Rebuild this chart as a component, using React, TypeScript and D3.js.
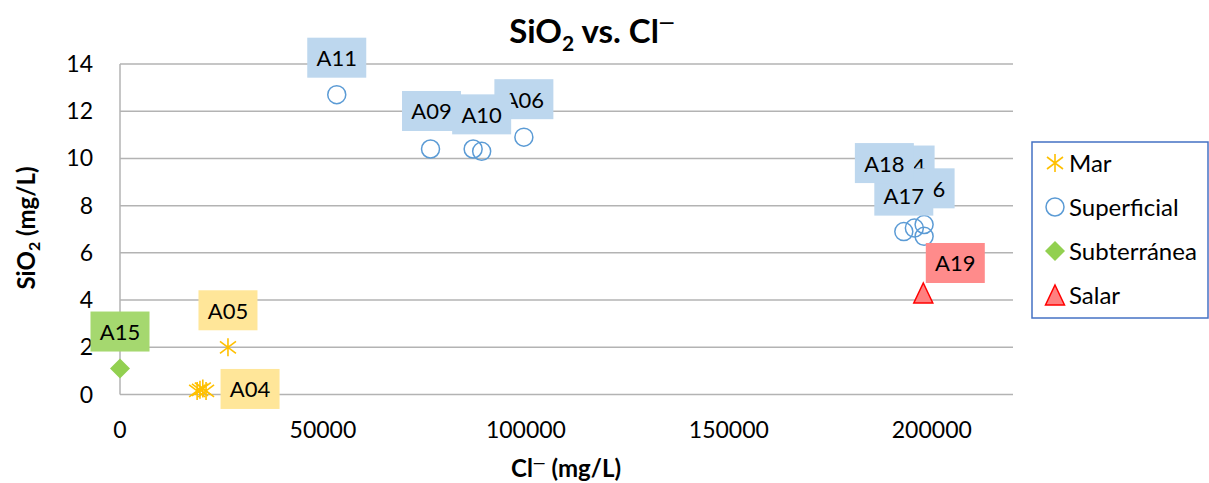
import * as d3 from "d3";

// ---- data ----
const marNames = ["A01", "A02", "A03", "A04", "A05"];
const marCl = [19000, 19700, 20400, 21200, 26600];
const marSiO2 = [0.15, 0.2, 0.25, 0.15, 2.0];

const supNames = ["A11", "A09", "A08", "A10", "A06", "A17", "A16", "A14", "A18"];
const supCl = [53400, 76500, 87000, 89100, 99500, 193100, 198100, 198100, 195700];
const supSiO2 = [12.7, 10.4, 10.4, 10.3, 10.9, 6.9, 6.7, 7.2, 7.05];

const subNames = ["A15"];
const subCl = [0];
const subSiO2 = [1.1];

const salNames = ["A19"];
const salCl = [197900];
const salSiO2 = [4.3];

const xTicks = [0, 50000, 100000, 150000, 200000];
const yTicks = [0, 2, 4, 6, 8, 10, 12, 14];
const legendLabels = ["Mar", "Superficial", "Subterránea", "Salar"];

// label box offsets (px, box centre relative to the point)
const labelPos: Record<string, [number, number]> = {
  A04: [44, -2],
  A05: [0, -37],
  A15: [0, -37],
  A11: [0, -37],
  A09: [1, -38],
  A10: [0, -37],
  A06: [0, -38],
  A14: [-19, -59],
  A16: [1, -48],
  A17: [0, -36],
  A18: [-30, -65],
  A19: [32, -30],
};
// drawing order of labels (later on top)
const labelOrder = ["A05", "A04", "A15", "A11", "A06", "A09", "A10", "A14", "A16", "A17", "A18", "A19"];

const W = 1209;
const H = 483;
const font = "Lato, 'Open Sans', sans-serif";

const colors = {
  mar: "#FFC000",
  marLabel: "#FFE699",
  sup: "#5B9BD5",
  supLabel: "#BDD7EE",
  sub: "#92D050",
  subLabel: "#A5D86F",
  sal: "#FF0000",
  salFill: "#FF8080",
  salLabel: "#FF8B8B",
  grid: "#B3B3B3",
};

const asterisk = "M0,-9V9M-8,-6L8,6M-8,6L8,-6";
const diamond = "M0,-10L10,0L0,10L-10,0Z";
const triangle = "M0,-10L9.5,10L-9.5,10Z";

export default function App() {
  const x = d3.scaleLinear().domain([0, 220000]).range([120, 1013]);
  const y = d3.scaleLinear().domain([0, 14]).range([394.5, 64]);

  type Pt = { name: string; cl: number; si: number; kind: string };
  const pts: Pt[] = [
    ...marNames.map((n, i) => ({ name: n, cl: marCl[i], si: marSiO2[i], kind: "mar" })),
    ...supNames.map((n, i) => ({ name: n, cl: supCl[i], si: supSiO2[i], kind: "sup" })),
    ...subNames.map((n, i) => ({ name: n, cl: subCl[i], si: subSiO2[i], kind: "sub" })),
    ...salNames.map((n, i) => ({ name: n, cl: salCl[i], si: salSiO2[i], kind: "sal" })),
  ];
  const byName = new Map(pts.map((p) => [p.name, p]));
  const labelFill: Record<string, string> = {
    mar: colors.marLabel,
    sup: colors.supLabel,
    sub: colors.subLabel,
    sal: colors.salLabel,
  };

  const marker = (kind: string, key: string | number, tx: number, ty: number) => {
    const t = `translate(${tx},${ty})`;
    if (kind === "mar")
      return <path key={key} d={asterisk} transform={t} fill="none" stroke={colors.mar} strokeWidth={1.6} />;
    if (kind === "sup")
      return <circle key={key} cx={tx} cy={ty} r={9} fill="none" stroke={colors.sup} strokeWidth={1.5} />;
    if (kind === "sub") return <path key={key} d={diamond} transform={t} fill={colors.sub} />;
    return <path key={key} d={triangle} transform={t} fill={colors.salFill} stroke={colors.sal} strokeWidth={1.5} />;
  };

  return (
    <svg
      width={W}
      height={H}
      style={{ position: "absolute", left: 0, top: 0, background: "#fff" }}
      fontFamily={font}
    >
      {/* grid */}
      {yTicks.map((t) => (
        <line key={t} x1={x(0)} x2={x(220000)} y1={y(t)} y2={y(t)} stroke={colors.grid} strokeWidth={1.5} />
      ))}
      <line x1={x(0)} x2={x(0)} y1={y(14)} y2={y(0)} stroke={colors.grid} strokeWidth={1.5} />

      {/* tick labels */}
      {yTicks.map((t) => (
        <text key={t} x={93} y={y(t) + 8} textAnchor="end" fontSize={23} fill="#000">
          {t}
        </text>
      ))}
      {xTicks.map((t) => (
        <text key={t} x={x(t)} y={438} textAnchor="middle" fontSize={23} fill="#000">
          {t}
        </text>
      ))}

      {/* title */}
      <text x={592} y={43} textAnchor="middle" fontSize={33} fontWeight="bold">
        SiO<tspan fontSize={21} dy={8}>2</tspan>
        <tspan dy={-8}> vs. Cl</tspan>
        <tspan fontSize={20} dy={-14}>—</tspan>
      </text>

      {/* axis titles */}
      <text x={566} y={477} textAnchor="middle" fontSize={24} fontWeight="bold">
        Cl<tspan fontSize={16} dy={-9}>—</tspan>
        <tspan dy={9}> (mg/L)</tspan>
      </text>
      <text transform="translate(35,228) rotate(-90)" textAnchor="middle" fontSize={24} fontWeight="bold">
        SiO<tspan fontSize={16} dy={5}>2</tspan>
        <tspan dy={-5}> (mg/L)</tspan>
      </text>

      {/* markers */}
      {pts.map((p, i) => marker(p.kind, i, x(p.cl), y(p.si)))}

      {/* data labels */}
      {labelOrder.map((n) => {
        const p = byName.get(n)!;
        const [dx, dy] = labelPos[n];
        const cx = x(p.cl) + dx;
        const cy = y(p.si) + dy;
        return (
          <g key={n}>
            <rect x={cx - 29.5} y={cy - 20} width={59} height={40} fill={labelFill[p.kind]} />
            <text x={cx} y={cy + 8.5} textAnchor="middle" fontSize={22} fill="#000">
              {n}
            </text>
          </g>
        );
      })}

      {/* legend */}
      <rect x={1032} y={142} width={176} height={176} fill="#fff" stroke="#4472C4" strokeWidth={1.5} />
      {legendLabels.map((l, i) => {
        const ly = 163 + i * 44;
        const kind = ["mar", "sup", "sub", "sal"][i];
        return (
          <g key={l}>
            {marker(kind, "m" + i, 1055, ly)}
            <text x={1069} y={ly + 8.5} fontSize={24} fill="#000">
              {l}
            </text>
          </g>
        );
      })}
    </svg>
  );
}
